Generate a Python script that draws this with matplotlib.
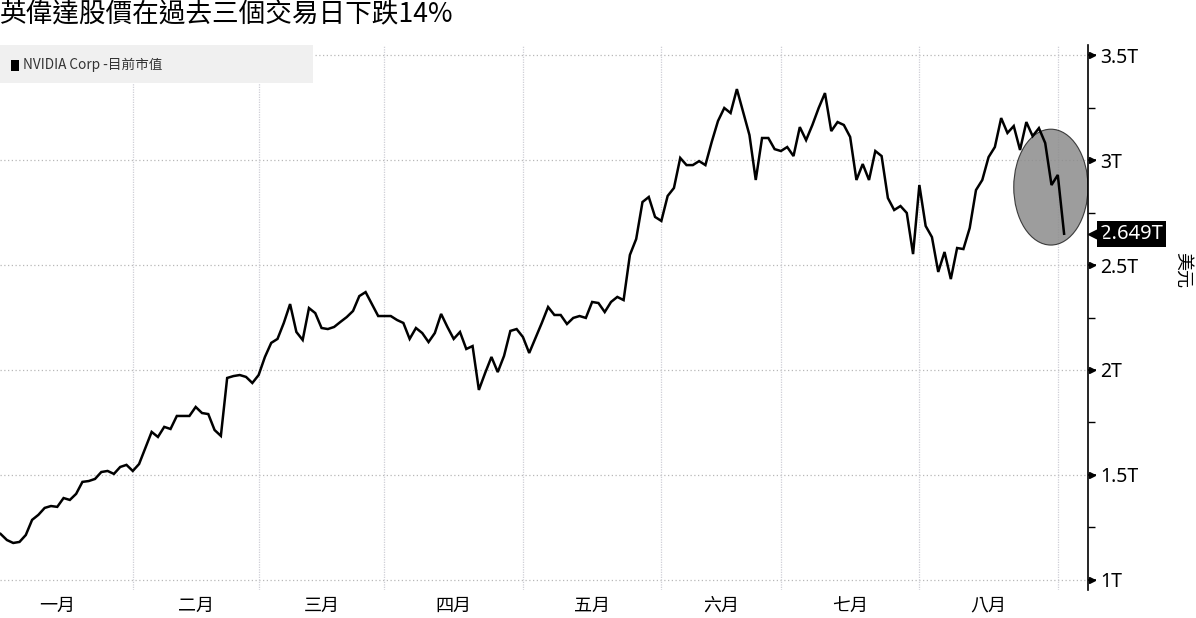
import numpy as np
import matplotlib
matplotlib.use("Agg")
import matplotlib.pyplot as plt
from matplotlib.patches import Ellipse, Rectangle
import matplotlib.transforms as mtransforms

plt.rcParams['font.family'] = ['Noto Sans CJK TC', 'DejaVu Sans']

# NVIDIA market cap (trillion USD), one value per trading day, 29 Dec 2023 .. 3 Sep 2024
mcap = [
    1.219, 1.190, 1.176, 1.181, 1.214, 1.286, 1.310, 1.343, 1.352, 1.348,
    1.390, 1.381, 1.410, 1.467, 1.471, 1.481, 1.514, 1.519, 1.505, 1.538,
    1.548, 1.519, 1.552, 1.629, 1.705, 1.681, 1.729, 1.719, 1.781, 1.781,
    1.781, 1.824, 1.795, 1.790, 1.714, 1.686, 1.962, 1.971, 1.976, 1.967,
    1.938, 1.976, 2.062, 2.129, 2.148, 2.224, 2.314, 2.181, 2.143, 2.295,
    2.271, 2.200, 2.195, 2.205, 2.229, 2.252, 2.281, 2.352, 2.371, 2.314,
    2.257, 2.257, 2.257, 2.238, 2.224, 2.148, 2.200, 2.176, 2.133, 2.176,
    2.267, 2.205, 2.148, 2.181, 2.100, 2.114, 1.905, 1.986, 2.062, 1.990,
    2.067, 2.186, 2.195, 2.157, 2.081, 2.152, 2.224, 2.300, 2.262, 2.262,
    2.219, 2.248, 2.257, 2.248, 2.324, 2.319, 2.276, 2.324, 2.348, 2.333,
    2.548, 2.624, 2.800, 2.824, 2.729, 2.710, 2.829, 2.867, 3.010, 2.976,
    2.976, 2.995, 2.976, 3.086, 3.186, 3.248, 3.224, 3.338, 3.229, 3.119,
    2.905, 3.105, 3.105, 3.052, 3.043, 3.062, 3.019, 3.157, 3.095, 3.167,
    3.248, 3.319, 3.138, 3.181, 3.167, 3.110, 2.905, 2.981, 2.905, 3.043,
    3.019, 2.819, 2.762, 2.781, 2.748, 2.552, 2.881, 2.686, 2.633, 2.467,
    2.562, 2.433, 2.581, 2.576, 2.676, 2.857, 2.905, 3.014, 3.062, 3.200,
    3.129, 3.162, 3.048, 3.181, 3.114, 3.152, 3.081, 2.881, 2.929, 2.649,
]
days = np.arange(len(mcap))

# last trading day of each month (index) -> vertical grid lines
month_ends = [21, 41, 61, 83, 105, 124, 146, 168]
months = ['一月', '二月', '三月', '四月', '五月', '六月', '七月', '八月']
month_pos = [9, 31, 51, 72, 94, 114.5, 135, 157]

yticks = [1, 1.5, 2, 2.5, 3, 3.5]
ylabels = ['1T', '1.5T', '2T', '2.5T', '3T', '3.5T']
last_label = '2.649T'

title = '英偉達股價在過去三個交易日下跌14%'
legend_label = 'NVIDIA Corp -目前市值'

W, H = 1196, 618
fig = plt.figure(figsize=(W / 100, H / 100), dpi=100)
ax = fig.add_axes([0, 1 - 590 / H, 1088 / W, 545 / H])

ax.set_xlim(-0.1, 172.8)
ax.set_ylim(0.952, 3.548)

# grid
for v in yticks:
    ax.axhline(v, color='#b8b8b8', lw=0.9, ls=(0, (1, 2)), zorder=1)
for b in month_ends:
    ax.axvline(b, color='#cfcfd6', lw=0.9, ls=(0, (1, 1)), zorder=1.6)

# highlighted last three days
ell = Ellipse((166.9, 2.871), width=11.8, height=0.552, facecolor='#8c8c8c',
              edgecolor='#222222', lw=0.8, alpha=0.85, zorder=2)
ax.add_patch(ell)

ax.plot(days, mcap, color='black', lw=1.8, zorder=3, solid_joinstyle='miter')

# spines / ticks
for s in ['left', 'top', 'bottom']:
    ax.spines[s].set_visible(False)
ax.spines['right'].set_color('black')
ax.spines['right'].set_linewidth(1.2)

ax.yaxis.tick_right()
ax.set_yticks(yticks)
ax.set_yticklabels(ylabels, fontsize=14)
ax.set_yticks([1.25, 1.75, 2.25, 2.75, 3.25], minor=True)
ax.tick_params(axis='y', which='major', length=6, width=1.2, pad=3, colors='black')
ax.tick_params(axis='y', which='minor', length=5, width=1.0)
for lab in ax.get_yticklabels():
    lab.set_family(['Noto Sans', 'DejaVu Sans'])

ax.set_xticks(month_pos)
ax.set_xticklabels(months, fontsize=13)
ax.tick_params(axis='x', length=0, pad=5)

# small arrowheads on major ticks
trans = mtransforms.blended_transform_factory(ax.transAxes, ax.transData)
tick_tr = mtransforms.offset_copy(trans, fig=fig, x=4, y=0, units='dots')
ax.plot([1] * len(yticks), yticks, ls='none', marker='>', ms=4, color='black',
        transform=tick_tr, clip_on=False, zorder=5)

# last value tag
ax.annotate(last_label, xy=(1, mcap[-1]), xycoords=trans,
            xytext=(12, 0), textcoords='offset pixels', ha='left', va='center',
            color='white', fontsize=14.5, family=['Noto Sans', 'DejaVu Sans'],
            bbox=dict(boxstyle='square,pad=0.14', fc='black', ec='none'),
            annotation_clip=False, zorder=6)
tag_tr = mtransforms.offset_copy(trans, fig=fig, x=7, y=0, units='dots')
ax.plot([1], [mcap[-1]], marker='<', ms=10, color='black', ls='none',
        transform=tag_tr, clip_on=False, zorder=6)

# legend box
fig.add_artist(Rectangle((0, 1 - 83 / H), 313 / W, 38 / H, transform=fig.transFigure,
                         facecolor='#f0f0f0', edgecolor='none', zorder=1.5))
fig.add_artist(Rectangle((11 / W, 1 - 71 / H), 8 / W, 11 / H, transform=fig.transFigure,
                         facecolor='black', edgecolor='none', zorder=2))
fig.text(23 / W, 1 - 65 / H, legend_label, fontsize=9.8, color='#333333',
         ha='left', va='center', zorder=3)

fig.text(0, 1 - 15 / H, title, fontsize=19.2, ha='left', va='center', color='black')
fig.text(1183 / W, 1 - 270 / H, '美元', rotation=-90, fontsize=13,
         ha='center', va='center')

fig.savefig('out.png', dpi=100)
